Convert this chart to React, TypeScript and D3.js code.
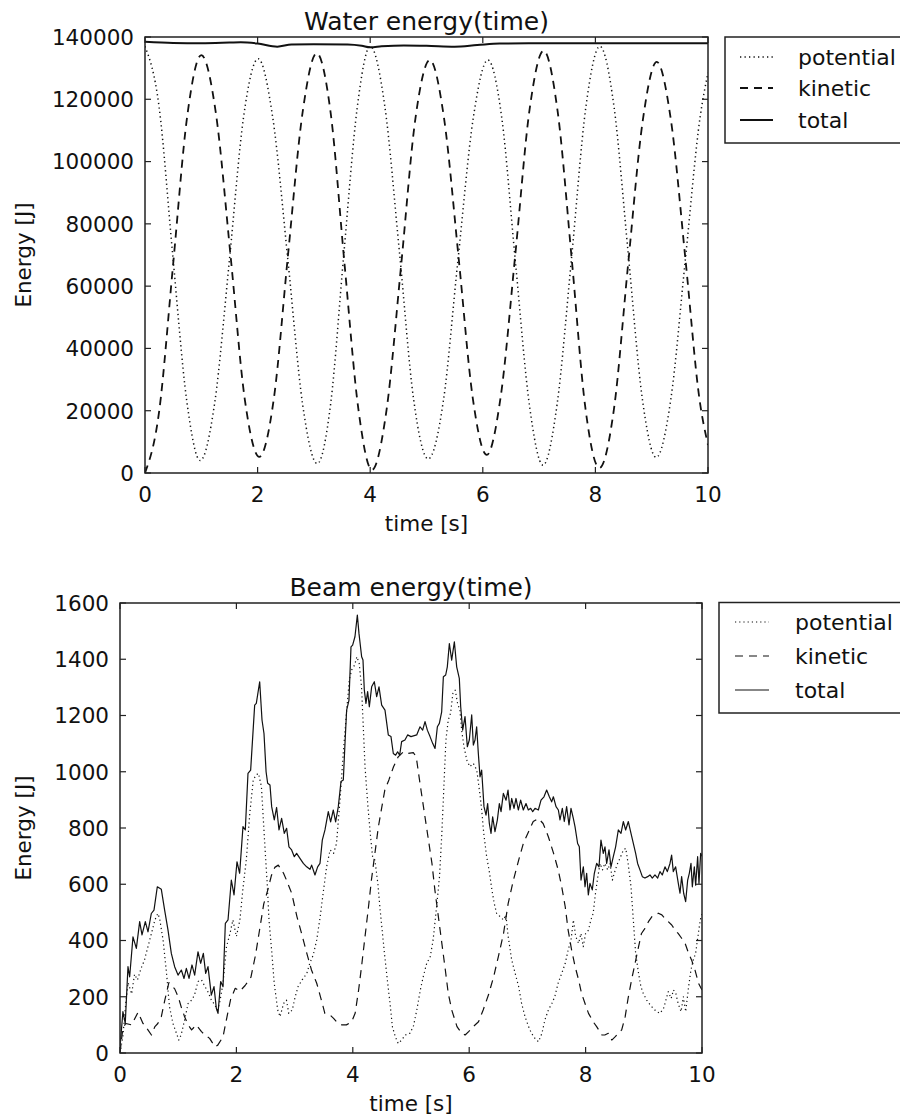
import React from 'react';
import * as d3 from 'd3';

const FONT = '"DejaVu Sans", "Liberation Sans", sans-serif';

// ---------- Water energy (time) ----------
const timeTicks = [0, 2, 4, 6, 8, 10];
const waterEnergyTicks = [0, 20000, 40000, 60000, 80000, 100000, 120000, 140000];

const waterPotentialT = [0, 0.25, 0.49, 0.74, 0.98, 1.24, 1.5, 1.75, 2.01, 2.27, 2.54, 2.8, 3.06, 3.3, 3.53, 3.77, 4.0, 4.26, 4.52, 4.77, 5.03, 5.3, 5.56, 5.83, 6.09, 6.34, 6.58, 6.83, 7.07, 7.32, 7.58, 7.83, 8.08, 8.33, 8.58, 8.83, 9.08, 9.34, 9.6, 9.86, 10];
const waterPotential = [137000, 117600, 70500, 23400, 4000, 22800, 68500, 114200, 133000, 114000, 68000, 22000, 3000, 22600, 70000, 117400, 137000, 117700, 70800, 23800, 4500, 23200, 68600, 113900, 132600, 113600, 67600, 21500, 2500, 22100, 69800, 117400, 137000, 117700, 71000, 24300, 5000, 23700, 69000, 114300, 128500];

const waterKineticT = [0, 0.25, 0.5, 0.75, 1.0, 1.26, 1.52, 1.77, 2.03, 2.29, 2.54, 2.8, 3.05, 3.3, 3.54, 3.79, 4.03, 4.29, 4.55, 4.8, 5.06, 5.31, 5.57, 5.82, 6.07, 6.32, 6.58, 6.83, 7.08, 7.33, 7.58, 7.82, 8.07, 8.33, 8.58, 8.84, 9.09, 9.34, 9.6, 9.85, 10];
const waterKinetic = [0, 19600, 67100, 114600, 134200, 115400, 69700, 24000, 5200, 24100, 70000, 115900, 134800, 115300, 67900, 20500, 1000, 20200, 66800, 113400, 132600, 114100, 69200, 24300, 5800, 24800, 70700, 116600, 135600, 116000, 68600, 21200, 1600, 20600, 66800, 113000, 132000, 113500, 68500, 23500, 9000];

const waterTotalT = [0, 0.5, 1.0, 1.5, 1.7, 2.0, 2.35, 2.6, 3.0, 3.6, 3.85, 4.0, 4.2, 4.6, 5.0, 5.5, 5.9, 6.3, 7.0, 8.0, 9.0, 10];
const waterTotal = [138500, 138100, 138000, 138200, 138300, 137900, 136900, 137600, 137700, 137600, 137200, 136700, 137000, 137300, 137200, 136900, 137400, 137900, 138000, 138000, 138000, 138000];

// ---------- Beam energy (time) ----------
const beamEnergyTicks = [0, 200, 400, 600, 800, 1000, 1200, 1400, 1600];

const beamPotentialT = [0, 0.05, 0.1, 0.14, 0.2, 0.25, 0.3, 0.36, 0.42, 0.45, 0.54, 0.6, 0.65, 0.68, 0.74, 0.8, 0.85, 0.91, 0.97, 1.01, 1.05, 1.11, 1.17, 1.23, 1.28, 1.34, 1.4, 1.46, 1.51, 1.57, 1.63, 1.67, 1.71, 1.77, 1.83, 1.89, 1.94, 2.0, 2.06, 2.11, 2.17, 2.23, 2.29, 2.34, 2.38, 2.43, 2.47, 2.5, 2.53, 2.56, 2.61, 2.65, 2.71, 2.75, 2.81, 2.86, 2.9, 2.96, 3.01, 3.06, 3.13, 3.21, 3.26, 3.32, 3.38, 3.44, 3.49, 3.55, 3.61, 3.67, 3.72, 3.78, 3.84, 3.9, 3.94, 3.98, 4.03, 4.07, 4.11, 4.15, 4.18, 4.21, 4.26, 4.3, 4.34, 4.38, 4.43, 4.47, 4.51, 4.55, 4.6, 4.64, 4.68, 4.73, 4.78, 4.84, 4.9, 4.98, 5.04, 5.1, 5.16, 5.21, 5.27, 5.33, 5.38, 5.44, 5.49, 5.53, 5.56, 5.6, 5.64, 5.68, 5.72, 5.76, 5.8, 5.84, 5.87, 5.91, 5.96, 6.01, 6.07, 6.13, 6.19, 6.22, 6.25, 6.3, 6.35, 6.39, 6.43, 6.47, 6.53, 6.59, 6.63, 6.67, 6.73, 6.79, 6.85, 6.9, 6.96, 7.02, 7.07, 7.13, 7.19, 7.25, 7.3, 7.36, 7.42, 7.47, 7.53, 7.59, 7.65, 7.7, 7.75, 7.79, 7.83, 7.88, 7.92, 7.96, 8.0, 8.05, 8.09, 8.13, 8.17, 8.21, 8.25, 8.29, 8.33, 8.38, 8.42, 8.46, 8.51, 8.55, 8.59, 8.65, 8.69, 8.73, 8.78, 8.82, 8.86, 8.91, 8.95, 8.99, 9.05, 9.11, 9.16, 9.22, 9.28, 9.34, 9.38, 9.42, 9.47, 9.51, 9.55, 9.59, 9.64, 9.68, 9.72, 9.77, 9.81, 9.85, 9.89, 9.93, 9.97, 10];
const beamPotential = [0, 60, 180, 250, 210, 280, 260, 300, 330, 354, 425, 473, 496, 479, 402, 283, 165, 105, 70, 46, 64, 117, 176, 188, 206, 254, 260, 236, 218, 188, 171, 153, 176, 248, 378, 425, 473, 414, 473, 580, 686, 852, 971, 989, 994, 947, 805, 700, 600, 473, 354, 248, 153, 129, 176, 188, 141, 153, 200, 236, 260, 283, 319, 348, 402, 485, 568, 662, 722, 710, 745, 899, 1077, 1231, 1326, 1362, 1379, 1409, 1385, 1302, 1160, 1018, 876, 781, 698, 686, 603, 508, 425, 342, 248, 176, 94, 58, 34, 46, 64, 70, 94, 153, 224, 271, 319, 342, 402, 520, 627, 781, 923, 1113, 1184, 1208, 1279, 1290, 1243, 1219, 1148, 1089, 1041, 1018, 1030, 1006, 911, 852, 781, 698, 639, 580, 532, 497, 485, 473, 491, 414, 331, 283, 236, 176, 129, 94, 70, 52, 40, 70, 117, 153, 176, 200, 250, 283, 319, 366, 402, 473, 414, 390, 425, 378, 425, 437, 473, 496, 568, 627, 674, 651, 674, 651, 674, 615, 651, 674, 692, 722, 728, 674, 591, 473, 354, 283, 236, 212, 188, 171, 159, 147, 141, 159, 188, 218, 194, 224, 212, 176, 147, 200, 147, 236, 295, 331, 354, 414, 473, 496];

const beamKineticT = [0, 0.05, 0.1, 0.2, 0.31, 0.395, 0.48, 0.54, 0.6, 0.65, 0.71, 0.77, 0.84, 0.94, 1.0, 1.05, 1.11, 1.17, 1.23, 1.31, 1.4, 1.46, 1.54, 1.63, 1.68, 1.77, 1.82, 1.9, 1.98, 2.06, 2.15, 2.25, 2.33, 2.4, 2.47, 2.54, 2.6, 2.66, 2.72, 2.81, 2.86, 2.95, 3.04, 3.12, 3.21, 3.29, 3.38, 3.46, 3.52, 3.61, 3.67, 3.72, 3.81, 3.89, 3.98, 4.04, 4.1, 4.15, 4.21, 4.27, 4.32, 4.38, 4.44, 4.5, 4.55, 4.62, 4.7, 4.78, 4.87, 4.95, 5.04, 5.09, 5.13, 5.18, 5.24, 5.3, 5.36, 5.41, 5.47, 5.53, 5.59, 5.64, 5.7, 5.79, 5.87, 5.93, 5.99, 6.07, 6.16, 6.24, 6.33, 6.42, 6.5, 6.59, 6.67, 6.76, 6.85, 6.93, 7.02, 7.1, 7.19, 7.27, 7.36, 7.45, 7.53, 7.59, 7.65, 7.7, 7.76, 7.82, 7.88, 7.93, 7.99, 8.05, 8.13, 8.19, 8.28, 8.33, 8.39, 8.45, 8.51, 8.56, 8.62, 8.68, 8.73, 8.79, 8.85, 8.91, 8.96, 9.02, 9.08, 9.14, 9.19, 9.25, 9.31, 9.36, 9.42, 9.48, 9.54, 9.59, 9.65, 9.71, 9.77, 9.82, 9.88, 9.94, 10];
const beamKinetic = [0, 90, 105, 100, 145, 105, 82, 64, 94, 105, 129, 188, 250, 228, 200, 165, 129, 100, 82, 100, 76, 64, 52, 22, 28, 58, 110, 190, 230, 220, 240, 270, 350, 440, 530, 580, 630, 660, 668, 639, 615, 568, 485, 425, 354, 295, 248, 188, 141, 135, 123, 111, 100, 100, 111, 141, 224, 307, 414, 520, 615, 710, 805, 876, 935, 971, 1018, 1053, 1071, 1065, 1068, 1053, 994, 923, 840, 757, 674, 580, 485, 390, 295, 212, 153, 94, 70, 64, 76, 94, 111, 153, 206, 271, 342, 425, 532, 615, 686, 745, 787, 823, 834, 816, 769, 710, 650, 591, 520, 437, 366, 307, 260, 212, 176, 141, 111, 94, 64, 64, 70, 46, 58, 70, 82, 129, 194, 260, 319, 378, 425, 443, 467, 485, 491, 497, 491, 479, 467, 455, 437, 425, 408, 390, 354, 331, 295, 248, 224];

const beamTotalT = [0, 0.05, 0.09, 0.137, 0.166, 0.223, 0.281, 0.338, 0.378, 0.435, 0.481, 0.538, 0.584, 0.641, 0.71, 0.767, 0.825, 0.882, 0.939, 0.997, 1.054, 1.1, 1.14, 1.186, 1.237, 1.283, 1.34, 1.386, 1.432, 1.472, 1.512, 1.569, 1.615, 1.655, 1.684, 1.73, 1.77, 1.81, 1.856, 1.913, 1.959, 2.01, 2.056, 2.113, 2.153, 2.199, 2.245, 2.314, 2.342, 2.4, 2.44, 2.474, 2.51, 2.537, 2.577, 2.606, 2.651, 2.691, 2.732, 2.777, 2.823, 2.863, 2.903, 2.949, 2.995, 3.035, 3.092, 3.15, 3.207, 3.264, 3.293, 3.35, 3.396, 3.436, 3.476, 3.522, 3.579, 3.619, 3.665, 3.705, 3.751, 3.797, 3.837, 3.866, 3.894, 3.934, 3.969, 3.997, 4.037, 4.078, 4.106, 4.152, 4.175, 4.198, 4.226, 4.255, 4.284, 4.324, 4.37, 4.41, 4.45, 4.496, 4.553, 4.61, 4.656, 4.696, 4.736, 4.77, 4.805, 4.839, 4.896, 4.942, 5.0, 5.098, 5.155, 5.2, 5.241, 5.281, 5.327, 5.372, 5.413, 5.453, 5.487, 5.527, 5.556, 5.596, 5.624, 5.659, 5.699, 5.745, 5.785, 5.83, 5.854, 5.888, 5.928, 5.968, 6.002, 6.043, 6.071, 6.1, 6.128, 6.157, 6.186, 6.214, 6.254, 6.289, 6.317, 6.346, 6.375, 6.403, 6.443, 6.484, 6.518, 6.547, 6.587, 6.633, 6.667, 6.701, 6.73, 6.77, 6.804, 6.844, 6.884, 6.93, 6.976, 7.016, 7.056, 7.091, 7.131, 7.188, 7.234, 7.285, 7.331, 7.377, 7.417, 7.446, 7.492, 7.532, 7.56, 7.6, 7.634, 7.674, 7.715, 7.749, 7.789, 7.818, 7.863, 7.892, 7.921, 7.961, 7.99, 8.018, 8.047, 8.075, 8.115, 8.15, 8.19, 8.23, 8.264, 8.304, 8.333, 8.362, 8.402, 8.436, 8.476, 8.516, 8.562, 8.608, 8.648, 8.688, 8.734, 8.78, 8.82, 8.86, 8.894, 8.934, 8.975, 9.02, 9.066, 9.106, 9.146, 9.192, 9.238, 9.278, 9.318, 9.364, 9.404, 9.45, 9.478, 9.507, 9.547, 9.593, 9.622, 9.65, 9.685, 9.719, 9.754, 9.782, 9.811, 9.834, 9.868, 9.891, 9.925, 9.948, 9.977, 10];
const beamTotal = [20, 147, 105, 307, 271, 413, 372, 467, 420, 467, 431, 496, 508, 591, 582, 508, 437, 354, 307, 277, 295, 265, 301, 265, 313, 277, 360, 319, 354, 283, 307, 206, 236, 159, 141, 254, 236, 461, 473, 615, 562, 680, 639, 805, 793, 994, 1006, 1237, 1243, 1320, 1184, 1136, 1000, 959, 953, 876, 829, 873, 793, 834, 781, 799, 733, 722, 698, 710, 692, 674, 662, 653, 668, 633, 662, 674, 757, 793, 858, 822, 864, 822, 876, 965, 971, 1101, 1219, 1254, 1444, 1450, 1480, 1557, 1492, 1409, 1397, 1290, 1243, 1285, 1231, 1302, 1320, 1267, 1302, 1237, 1219, 1131, 1125, 1065, 1059, 1071, 1059, 1107, 1113, 1131, 1125, 1131, 1160, 1148, 1178, 1148, 1125, 1101, 1083, 1160, 1172, 1213, 1338, 1344, 1373, 1456, 1397, 1462, 1373, 1332, 1231, 1148, 1196, 1089, 1113, 1202, 1095, 1113, 1160, 1065, 982, 1006, 876, 846, 887, 816, 781, 840, 787, 829, 887, 858, 923, 899, 935, 864, 905, 870, 905, 864, 899, 864, 887, 864, 870, 858, 870, 864, 899, 911, 935, 911, 893, 911, 876, 864, 829, 870, 823, 876, 811, 870, 834, 805, 745, 733, 615, 662, 591, 639, 562, 603, 580, 639, 674, 662, 757, 710, 733, 674, 722, 662, 698, 733, 793, 781, 823, 793, 823, 781, 745, 710, 674, 651, 627, 622, 627, 633, 622, 633, 622, 645, 633, 662, 645, 674, 704, 645, 662, 603, 568, 627, 568, 538, 615, 639, 674, 591, 662, 597, 698, 603, 710, 700];

type SeriesDef = {
  label: string;
  t: number[];
  v: number[];
  width: number;
  dash?: string;
  curve: d3.CurveFactory;
};

type PanelProps = {
  id: string;
  title: string;
  left: number;
  right: number;
  top: number;
  bottom: number;
  yMax: number;
  yTicks: number[];
  series: SeriesDef[];
  legend: { x: number; y: number; h: number; sampleX: number; textX: number; rows: number[]; legendWidth: number[] };
};

const AXIS = '#222';
const INK = '#111';

function Panel({ id, title, left, right, top, bottom, yMax, yTicks, series, legend }: PanelProps) {
  const x = d3.scaleLinear().domain([0, 10]).range([left, right]);
  const y = d3.scaleLinear().domain([0, yMax]).range([bottom, top]);
  const tick = 6;
  const fmt = d3.format('d');
  const midX = (left + right) / 2;
  const midY = (top + bottom) / 2;

  return (
    <g>
      <defs>
        <clipPath id={`clip-${id}`}>
          <rect x={left} y={top} width={right - left} height={bottom - top} />
        </clipPath>
      </defs>
      <g clipPath={`url(#clip-${id})`}>
        {series.map((s, i) => {
          const pts: [number, number][] = s.t.map((t, k) => [t, s.v[k]]);
          const line = d3
            .line<[number, number]>()
            .x((d) => x(d[0]))
            .y((d) => y(d[1]))
            .curve(s.curve);
          return (
            <path
              key={i}
              d={line(pts) || ''}
              fill="none"
              stroke={INK}
              strokeWidth={s.width}
              strokeDasharray={s.dash}
              strokeLinejoin="round"
            />
          );
        })}
      </g>

      {/* ticks, inward on all four sides */}
      {timeTicks.map((t) => (
        <g key={`xt${t}`}>
          <line x1={x(t)} x2={x(t)} y1={bottom} y2={bottom - tick} stroke={AXIS} strokeWidth={1.2} />
          <line x1={x(t)} x2={x(t)} y1={top} y2={top + tick} stroke={AXIS} strokeWidth={1.2} />
          <text x={x(t)} y={bottom + 29} textAnchor="middle" fontSize={21.5} fill={INK} fontFamily={FONT}>
            {t}
          </text>
        </g>
      ))}
      {yTicks.map((v) => (
        <g key={`yt${v}`}>
          <line x1={left} x2={left + tick} y1={y(v)} y2={y(v)} stroke={AXIS} strokeWidth={1.2} />
          <line x1={right} x2={right - tick} y1={y(v)} y2={y(v)} stroke={AXIS} strokeWidth={1.2} />
          <text x={left - 11} y={y(v) + 7.8} textAnchor="end" fontSize={21.5} fill={INK} fontFamily={FONT}>
            {fmt(v)}
          </text>
        </g>
      ))}

      <rect x={left} y={top} width={right - left} height={bottom - top} fill="none" stroke={AXIS} strokeWidth={1.5} />

      <text x={midX} y={top - 7} textAnchor="middle" fontSize={25} fill={INK} fontFamily={FONT}>
        {title}
      </text>
      <text x={midX} y={bottom + 58} textAnchor="middle" fontSize={21.5} fill={INK} fontFamily={FONT}>
        time [s]
      </text>
      <text
        transform={`translate(31, ${midY}) rotate(-90)`}
        textAnchor="middle"
        fontSize={21.5}
        fill={INK}
        fontFamily={FONT}
      >
        Energy [J]
      </text>

      {/* legend */}
      <rect x={legend.x} y={legend.y} width={260} height={legend.h} fill="#fff" stroke={AXIS} strokeWidth={1.5} />
      {series.map((s, i) => (
        <g key={`lg${i}`}>
          <line
            x1={legend.sampleX}
            x2={legend.sampleX + legend.legendWidth[i]}
            y1={legend.rows[i]}
            y2={legend.rows[i]}
            stroke={INK}
            strokeWidth={s.width}
            strokeDasharray={s.dash}
          />
          <text x={legend.textX} y={legend.rows[i] + 8} fontSize={22} fill={INK} fontFamily={FONT}>
            {s.label}
          </text>
        </g>
      ))}
    </g>
  );
}

export default function App() {
  const waterSeries: SeriesDef[] = [
    { label: 'potential', t: waterPotentialT, v: waterPotential, width: 1.5, dash: '1.3,3.2', curve: d3.curveMonotoneX },
    { label: 'kinetic', t: waterKineticT, v: waterKinetic, width: 1.8, dash: '8,6', curve: d3.curveMonotoneX },
    { label: 'total', t: waterTotalT, v: waterTotal, width: 2, curve: d3.curveMonotoneX },
  ];
  const beamSeries: SeriesDef[] = [
    { label: 'potential', t: beamPotentialT, v: beamPotential, width: 1.2, dash: '1.2,3', curve: d3.curveLinear },
    { label: 'kinetic', t: beamKineticT, v: beamKinetic, width: 1.2, dash: '8,6', curve: d3.curveLinear },
    { label: 'total', t: beamTotalT, v: beamTotal, width: 1.2, curve: d3.curveLinear },
  ];

  return (
    <svg
      width={900}
      height={1117}
      viewBox="0 0 900 1117"
      style={{ position: 'absolute', left: 0, top: 0, background: '#fff' }}
    >
      <rect x={0} y={0} width={900} height={1117} fill="#fff" />
      <Panel
        id="water"
        title="Water energy(time)"
        left={145}
        right={708}
        top={37}
        bottom={473}
        yMax={140000}
        yTicks={waterEnergyTicks}
        series={waterSeries}
        legend={{ x: 725, y: 37, h: 106, sampleX: 740, textX: 798, rows: [57, 88, 120], legendWidth: [33, 33, 33] }}
      />
      <Panel
        id="beam"
        title="Beam energy(time)"
        left={120}
        right={702}
        top={603}
        bottom={1053}
        yMax={1600}
        yTicks={beamEnergyTicks}
        series={beamSeries}
        legend={{ x: 719, y: 602.5, h: 110.5, sampleX: 735, textX: 795, rows: [622, 656, 690], legendWidth: [34, 34, 34] }}
      />
    </svg>
  );
}
